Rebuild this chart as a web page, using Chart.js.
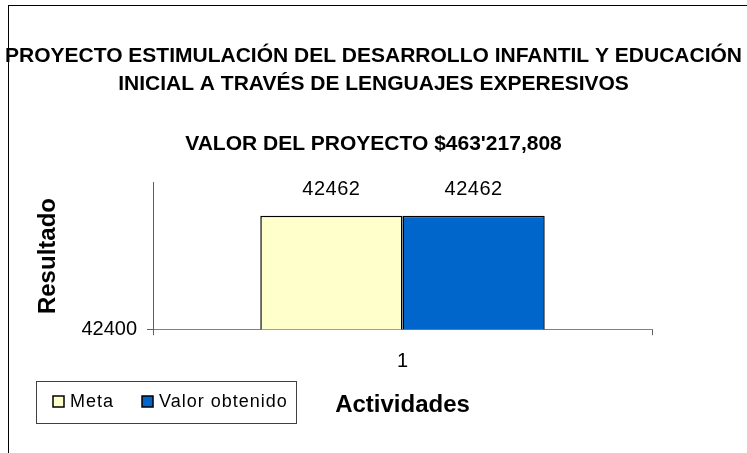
<!DOCTYPE html>
<html>
<head>
<meta charset="utf-8">
<script src="https://cdn.jsdelivr.net/npm/chart.js@4/dist/chart.umd.min.js"></script>
<style>
    html, body { margin: 0; padding: 0; background: #fff; overflow: hidden; }
    #wrap { position: relative; width: 747px; height: 453px; }
    #frame {
        position: absolute; left: 8px; top: 5px; width: 760px; height: 470px;
        border: 1px solid #000; box-sizing: border-box;
    }
    #chart { position: absolute; left: 0; top: 0; }
</style>
</head>
<body>
<div id="wrap">
    <div id="frame"></div>
    <canvas id="chart" width="747" height="453"></canvas>
</div>
<script>
// data
const categories = ['1'];
const metaValues = [42462];
const obtenidoValues = [42462];
const yTickValues = [42400];
const yMin = 42400;
const yMax = 42480;

const FONT = "'Liberation Sans', Arial, sans-serif";

// value labels above each bar
const valueLabels = {
    id: 'valueLabels',
    afterDatasetsDraw(chart) {
        const ctx = chart.ctx;
        ctx.save();
        ctx.font = '20px ' + FONT;
        ctx.letterSpacing = '0.5px';
        ctx.fillStyle = '#000';
        ctx.textAlign = 'center';
        ctx.textBaseline = 'middle';
        chart.data.datasets.forEach((ds, i) => {
            chart.getDatasetMeta(i).data.forEach((bar, j) => {
                ctx.fillText(String(ds.data[j]), bar.x, bar.y - 26);
            });
        });
        ctx.restore();
    }
};

// boxed legend in the lower left corner
const boxLegend = {
    id: 'boxLegend',
    afterDraw(chart) {
        const ctx = chart.ctx;
        ctx.save();
        ctx.strokeStyle = '#404040';
        ctx.lineWidth = 1;
        ctx.strokeRect(36.5, 381.5, 260, 42);
        ctx.font = '18px ' + FONT;
        ctx.letterSpacing = '1px';
        ctx.textBaseline = 'middle';
        let x = 53;
        const cy = 402;
        chart.data.datasets.forEach(ds => {
            ctx.fillStyle = ds.backgroundColor;
            ctx.fillRect(x, cy - 6, 11, 11);
            ctx.strokeStyle = '#000';
            ctx.lineWidth = 1.5;
            ctx.strokeRect(x, cy - 6, 11, 11);
            ctx.fillStyle = '#000';
            ctx.fillText(ds.label, x + 17, cy);
            x += 17 + ctx.measureText(ds.label).width + 28;
        });
        ctx.restore();
    }
};

new Chart(document.getElementById('chart'), {
    type: 'bar',
    data: {
        labels: categories,
        datasets: [
            {
                label: 'Meta',
                data: metaValues,
                backgroundColor: '#FFFFCC',
                borderColor: '#000',
                borderWidth: 1.5,
                borderSkipped: false
            },
            {
                label: 'Valor obtenido',
                data: obtenidoValues,
                backgroundColor: '#0066CC',
                borderColor: '#000',
                borderWidth: 1.5,
                borderSkipped: false
            }
        ]
    },
    options: {
        responsive: false,
        devicePixelRatio: 1,
        animation: false,
        layout: { padding: { left: 0, right: 0, top: 0, bottom: 33 } },
        datasets: { bar: { categoryPercentage: 0.57, barPercentage: 1.0 } },
        plugins: {
            legend: { display: false },
            tooltip: { enabled: false },
            title: {
                display: true,
                text: ['PROYECTO ESTIMULACIÓN DEL DESARROLLO INFANTIL Y EDUCACIÓN',
                       'INICIAL A TRAVÉS DE LENGUAJES EXPERESIVOS'],
                color: '#000',
                font: { family: FONT, size: 21, weight: 'bold', lineHeight: 1.3 },
                padding: { top: 43, bottom: 33 }
            },
            subtitle: {
                display: true,
                text: "VALOR DEL PROYECTO $463'217,808",
                color: '#000',
                font: { family: FONT, size: 21, weight: 'bold', lineHeight: 1.3 },
                padding: { top: 0, bottom: 25 }
            }
        },
        scales: {
            x: {
                grid: { drawOnChartArea: false, tickLength: 6, color: '#606060' },
                border: { color: '#808080', width: 1 },
                ticks: { color: '#000', padding: 14.5, font: { family: FONT, size: 20 } },
                title: {
                    display: true,
                    text: 'Actividades',
                    color: '#000',
                    font: { family: FONT, size: 24, weight: 'bold' },
                    padding: { top: 3, bottom: 0 }
                }
            },
            y: {
                min: yMin,
                max: yMax,
                afterBuildTicks(scale) {
                    scale.ticks = yTickValues.map(v => ({ value: v }));
                },
                afterFit(scale) {
                    scale.width = 153;
                },
                grid: { drawOnChartArea: false, tickLength: 6, color: '#606060' },
                border: { color: '#606060', width: 1 },
                ticks: {
                    color: '#000',
                    padding: 10,
                    font: { family: FONT, size: 20 },
                    callback: v => String(v)
                },
                title: {
                    display: true,
                    text: 'Resultado',
                    color: '#000',
                    font: { family: FONT, size: 24, weight: 'bold' },
                    padding: { top: 34, bottom: 0 }
                }
            },
            // empty right-hand space, keeps the plot off the right edge
            yRight: {
                position: 'right',
                display: true,
                grid: { display: false },
                border: { display: false },
                ticks: { display: false },
                afterFit(scale) {
                    scale.width = 95;
                }
            }
        }
    },
    plugins: [valueLabels, boxLegend]
});
</script>
</body>
</html>
